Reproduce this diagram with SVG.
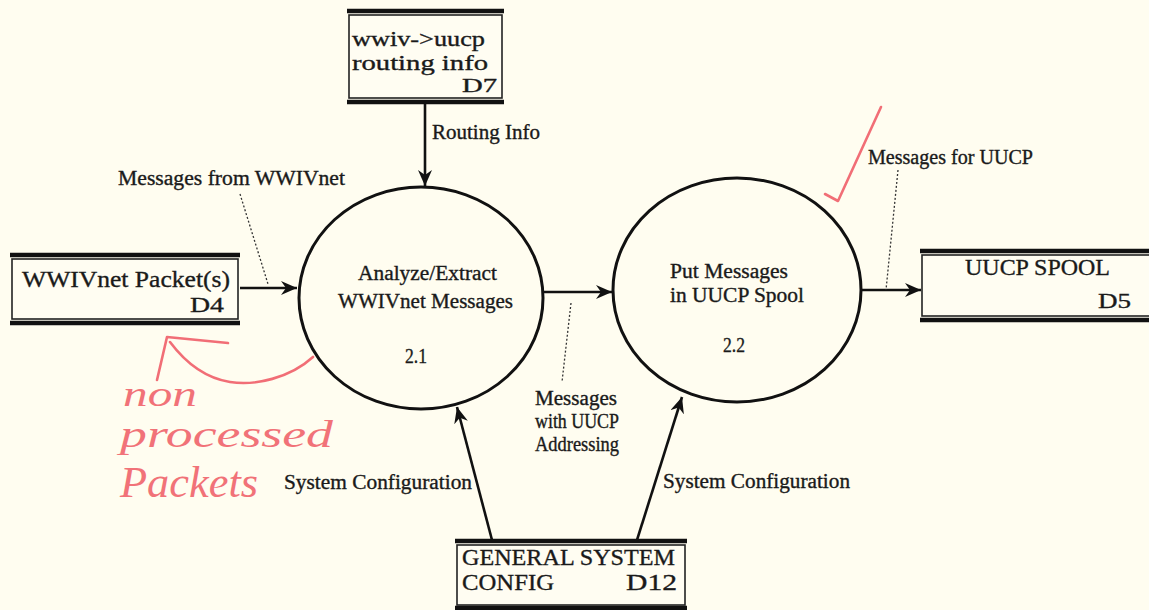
<svg xmlns="http://www.w3.org/2000/svg" width="1149" height="610" viewBox="0 0 1149 610">
<style>
text{font-family:"Liberation Serif","Times New Roman",serif;fill:#1a1a1a;stroke:#1a1a1a;stroke-width:0.35}
.bar{stroke:#111;stroke-width:4.5;fill:none}
.box{stroke:#222;stroke-width:1.6;fill:#fffdf2}
.proc{stroke:#111;stroke-width:3;fill:none}
.flow{stroke:#111;stroke-width:2.6;fill:none}
.lead{stroke:#333;stroke-width:1.3;stroke-dasharray:2 2;fill:none}
.lbl{font-size:20px}
.st{font-size:24px}
.st7{font-size:21px}
.red{stroke:#ee5560;stroke-width:2.6;fill:none;stroke-linecap:round;stroke-linejoin:round;opacity:.85}
text.hw{font-family:"Liberation Serif",serif;font-style:italic;fill:#ef5a64;stroke:none;opacity:.85}
</style>
<defs>
<marker id="ah" markerUnits="userSpaceOnUse" markerWidth="18" markerHeight="14" refX="16" refY="7" orient="auto">
<path d="M0,0 L16,7 L0,14 L5,7 z" fill="#111"/>
</marker>
</defs>
<rect width="1149" height="610" fill="#fffdf0"/>

<g id="D7">
<rect class="box" x="349" y="15" width="153" height="83"/>
<line class="bar" x1="347" y1="11" x2="504" y2="11"/>
<line class="bar" x1="347" y1="102" x2="504" y2="102"/>
<text class="st7" x="352" y="46" textLength="133" lengthAdjust="spacingAndGlyphs">wwiv-&gt;uucp</text>
<text class="st7" x="352" y="70" textLength="136" lengthAdjust="spacingAndGlyphs">routing info</text>
<text x="462" y="92" style="font-size:18px" textLength="35" lengthAdjust="spacingAndGlyphs">D7</text>
</g>

<g id="D4">
<rect class="box" x="12" y="259" width="226" height="60"/>
<line class="bar" x1="10" y1="255" x2="240" y2="255"/>
<line class="bar" x1="10" y1="323" x2="240" y2="323"/>
<text class="st" x="22" y="287" textLength="208" lengthAdjust="spacingAndGlyphs">WWIVnet Packet(s)</text>
<text x="190" y="312" style="font-size:22px" textLength="34" lengthAdjust="spacingAndGlyphs">D4</text>
</g>

<g id="D5">
<rect class="box" x="922" y="255" width="240" height="61"/>
<line class="bar" x1="920" y1="251" x2="1149" y2="251"/>
<line class="bar" x1="920" y1="320" x2="1149" y2="320"/>
<text class="st" x="965" y="275" textLength="145" lengthAdjust="spacingAndGlyphs">UUCP SPOOL</text>
<text x="1098" y="308" style="font-size:20px" textLength="33" lengthAdjust="spacingAndGlyphs">D5</text>
</g>

<g id="D12">
<rect class="box" x="457" y="545" width="228" height="60"/>
<line class="bar" x1="455" y1="541" x2="687" y2="541"/>
<line class="bar" x1="455" y1="608" x2="687" y2="608"/>
<text class="st" x="462" y="565" textLength="213" lengthAdjust="spacingAndGlyphs">GENERAL SYSTEM</text>
<text class="st" x="462" y="590" textLength="92" lengthAdjust="spacingAndGlyphs">CONFIG</text>
<text class="st" x="626" y="590" textLength="51" lengthAdjust="spacingAndGlyphs">D12</text>
</g>

<g id="P2.1">
<ellipse class="proc" cx="421" cy="298" rx="122" ry="111"/>
<text class="lbl" x="358" y="280" textLength="139" lengthAdjust="spacingAndGlyphs">Analyze/Extract</text>
<text class="lbl" x="338" y="308" textLength="175" lengthAdjust="spacingAndGlyphs">WWIVnet Messages</text>
<text class="lbl" x="405" y="363" textLength="22" lengthAdjust="spacingAndGlyphs">2.1</text>
</g>

<g id="P2.2">
<ellipse class="proc" cx="737" cy="290" rx="124" ry="112"/>
<text class="lbl" x="670" y="278" textLength="118" lengthAdjust="spacingAndGlyphs">Put Messages</text>
<text class="lbl" x="670" y="302" textLength="134" lengthAdjust="spacingAndGlyphs">in UUCP Spool</text>
<text class="lbl" x="723" y="352" textLength="22" lengthAdjust="spacingAndGlyphs">2.2</text>
</g>

<g id="connectors">
<line class="flow" x1="425" y1="104" x2="425" y2="186" marker-end="url(#ah)"/>
<line class="flow" x1="240" y1="288" x2="297" y2="288" marker-end="url(#ah)"/>
<line class="flow" x1="543" y1="292" x2="612" y2="292" marker-end="url(#ah)"/>
<line class="flow" x1="862" y1="290" x2="921" y2="290" marker-end="url(#ah)"/>
<line class="flow" x1="492" y1="540" x2="457" y2="407" marker-end="url(#ah)"/>
<line class="flow" x1="637" y1="540" x2="682" y2="397" marker-end="url(#ah)"/>
<line class="lead" x1="240" y1="194" x2="268" y2="284"/>
<line class="lead" x1="571" y1="303" x2="562" y2="382"/>
<line class="lead" x1="898" y1="170" x2="886" y2="290"/>
<text class="lbl" x="432" y="139" textLength="108" lengthAdjust="spacingAndGlyphs">Routing Info</text>
<text class="lbl" x="118" y="185" textLength="227" lengthAdjust="spacingAndGlyphs">Messages from WWIVnet</text>
<text class="lbl" x="868" y="164" textLength="165" lengthAdjust="spacingAndGlyphs">Messages for UUCP</text>
<text class="lbl" x="535" y="405" textLength="82" lengthAdjust="spacingAndGlyphs">Messages</text>
<text class="lbl" x="535" y="428" textLength="84" lengthAdjust="spacingAndGlyphs">with UUCP</text>
<text class="lbl" x="535" y="451" textLength="84" lengthAdjust="spacingAndGlyphs">Addressing</text>
<text class="lbl" x="284" y="489" textLength="188" lengthAdjust="spacingAndGlyphs">System Configuration</text>
<text class="lbl" x="663" y="488" textLength="187" lengthAdjust="spacingAndGlyphs">System Configuration</text>
</g>

<g id="annotations">
<path class="red" d="M313,357 C290,378 255,386 230,382 C205,378 185,362 170,342"/>
<path class="red" d="M157,380 L167,337 L228,343"/>
<path class="red" d="M825,194 L838,201 L881,107"/>
<text class="hw" x="123" y="406" style="font-size:36px" textLength="74" lengthAdjust="spacingAndGlyphs">non</text>
<text class="hw" x="120" y="447" style="font-size:38px" textLength="213" lengthAdjust="spacingAndGlyphs">processed</text>
<text class="hw" x="120" y="497" style="font-size:44px" textLength="138" lengthAdjust="spacingAndGlyphs">Packets</text>
</g>
</svg>
